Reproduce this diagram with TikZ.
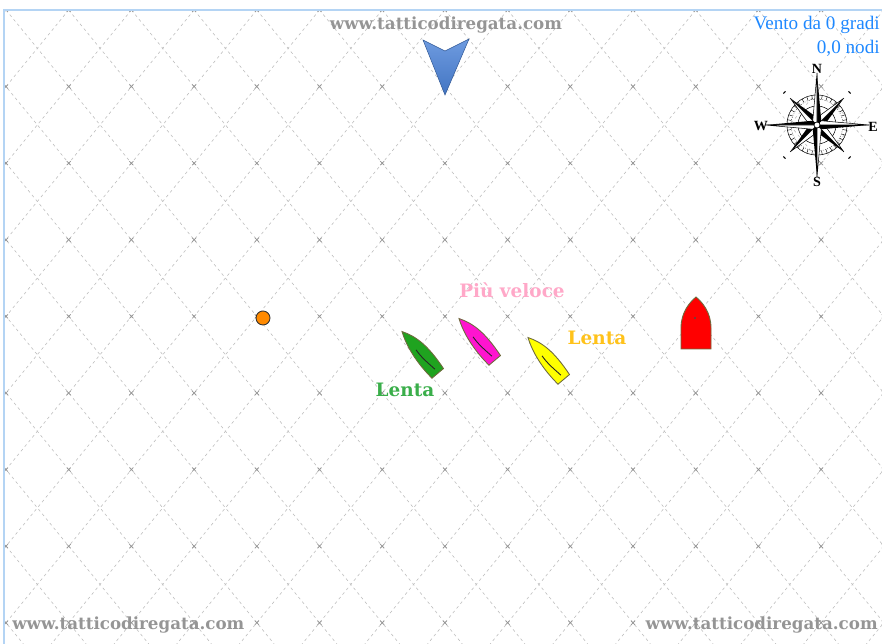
\documentclass[tikz,border=0pt]{standalone}
\usepackage{fontspec}
\setmainfont{Liberation Serif}
\newfontfamily\slabfont{DejaVu Serif}
\usepackage{tikz}
\usetikzlibrary{positioning}

\definecolor{frameblue}{HTML}{B4D4F4}
\definecolor{windblue}{HTML}{1E88FF}
\definecolor{hullline}{HTML}{6E6A3C}
\definecolor{boatgreen}{HTML}{1FA31F}
\definecolor{boatpink}{HTML}{FF14CF}
\definecolor{boatyellow}{HTML}{FFFF00}
\definecolor{markorange}{HTML}{FF8A00}
\definecolor{arrowblue}{HTML}{4A82D8}
\definecolor{labelpink}{HTML}{FFA8C8}
\definecolor{labelgold}{HTML}{FFC21A}
\definecolor{labelgreen}{HTML}{3AAE4A}
\definecolor{stampgray}{HTML}{959595}

\tikzset{
  gridline/.style={gray!50, line width=0.35pt, dash pattern=on 1.6pt off 1.8pt},
  gridmark/.style={gray!85, line width=0.4pt},
  hull/.style={draw=hullline, line width=0.5pt},
  sail/.style={draw=gray!30!black, line width=0.5pt},
  stamp/.style={font=\slabfont\bfseries\fontsize{9.5}{11}\selectfont, text=stampgray, inner sep=0pt},
  boatlabel/.style={font=\slabfont\bfseries\fontsize{10.5}{12}\selectfont, inner sep=0pt},
  windtext/.style={font=\fontsize{10.9}{12}\selectfont, text=windblue, inner sep=0pt},
  roseletter/.style={font=\bfseries\fontsize{8}{9}\selectfont, inner sep=0pt},
  pics/boat/.style={code={
    \draw[hull, fill=#1] (0,-28) .. controls (8,-15) and (11,0) .. (8,27)
      -- (-7,27) .. controls (-9,5) and (-6,-14) .. (0,-28) -- cycle;
    \draw[sail] (-1,-5) .. controls (-2,5) and (0,14) .. (1,22);
  }}
}

\begin{document}
\begin{tikzpicture}[x=0.02cm, y=-0.02cm]
  \useasboundingbox (0,0) rectangle (882,644);

  % race area with the dashed diamond grid
  \begin{scope}
    \clip (4,10) rectangle (882,644);
    \foreach \k in {-9,...,22} {
      \pgfmathsetmacro\xa{6+62.7*\k}
      \draw[gridline] (\xa,10) -- ++(519,634);
      \draw[gridline] (\xa,10) -- ++(-519,634);
    }
    \foreach \i in {0,...,14}
      \foreach \j in {0,...,8}
        \draw[gridmark] ({6+62.7*\i},{10+76.6*\j}) ++(-2,-2) -- ++(4,4) ++(0,-4) -- ++(-4,4);
  \end{scope}
  \draw[frameblue, line width=1.2pt] (4,644) -- (4,10) -- (882,10);

  % site stamps
  \node[stamp] (stampTop) at (446,25) {www.tatticodiregata.com};
  \node[stamp, anchor=west] (stampLeft) at (12,625) {www.tatticodiregata.com};
  \node[stamp, anchor=east] (stampRight) at (878,625) {www.tatticodiregata.com};

  % wind direction
  \draw[draw=arrowblue!70!black, line width=0.3pt, top color=arrowblue!80!white, bottom color=arrowblue!90!black]
    (423,40) -- (445,51) -- (469,39) -- (445,95) -- cycle;

  \node[windtext, anchor=base east] (windDir) at (880,30) {Vento da 0 gradi};
  \node[windtext, anchor=base east] (windSpeed) at (880,54) {0,0 nodi};

  % compass rose
  \begin{scope}[shift={(817,125)}]
    \draw[line width=0.3pt] (0,0) circle (30);
    \draw[line width=0.3pt, densely dotted] (0,0) circle (26);
    \draw[line width=0.3pt] (0,0) circle (19);
    \foreach \a in {0,10,...,350}
      \draw[line width=0.25pt] (\a:26) -- (\a:30);
    \foreach \a in {45,135,225,315}
      \draw[line width=0.6pt] (\a:46) ++(\a+90:1.5) -- ++(\a-90:3);
    \foreach \a in {45,135,225,315} {
      \fill[black] (0,0) -- (\a:38) -- (\a+40:8) -- cycle;
      \filldraw[fill=white, draw=black, line width=0.3pt] (0,0) -- (\a:38) -- (\a-40:8) -- cycle;
    }
    \foreach \a in {0,90,180,270} {
      \fill[black] (0,0) -- (\a:52) -- (\a+45:6) -- cycle;
      \filldraw[fill=white, draw=black, line width=0.3pt] (0,0) -- (\a:52) -- (\a-45:6) -- cycle;
    }
    \filldraw[fill=white, draw=black, line width=0.4pt] (0,0) circle (3);
  \end{scope}
  \node[roseletter] (roseN) at (817,69) {N};
  \node[roseletter] (roseS) at (817,182) {S};
  \node[roseletter] (roseE) at (873,127) {E};
  \node[roseletter] (roseW) at (761,126) {W};

  % mark and committee boat
  \draw[gray!40!black, fill=markorange, line width=0.5pt] (263,318) circle (7);
  \draw[hull, fill=red] (681,349) -- (681,328) .. controls (681,312) and (690,302) .. (696,297)
    .. controls (702,302) and (711,312) .. (711,328) -- (711,349) -- cycle;
  \fill[black!70] (695,318) circle (1.2);

  % boats
  \pic[rotate=40] at (420,353) {boat=boatgreen};
  \pic[rotate=40] at (477,340) {boat=boatpink};
  \pic[rotate=40] at (546,359) {boat=boatyellow};

  \node[boatlabel, text=labelpink] (labelFast) at (512,290) {Più veloce};
  \node[boatlabel, text=labelgold] (labelSlowY) at (597,338) {Lenta};
  \node[boatlabel, text=labelgreen] (labelSlowG) at (405,390) {Lenta};
\end{tikzpicture}
\end{document}
